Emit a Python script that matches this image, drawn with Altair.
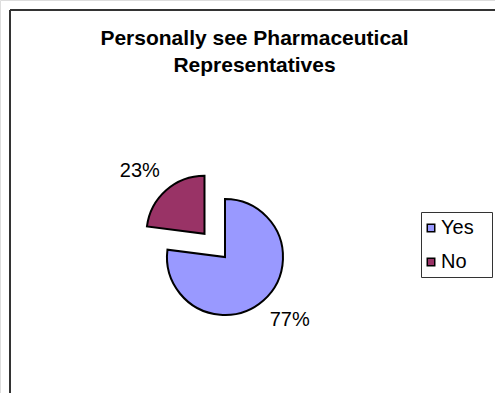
import altair as alt
import pandas as pd

# ---- data ----
categories = ["Yes", "No"]
values = [77, 23]
colors = ["#9999FF", "#993366"]

df = pd.DataFrame({
    "category": categories,
    "value": values,
    "order": list(range(len(categories))),
})

# ---- layout / style constants ----
W, H = 495, 393
CX, CY = 225, 257      # pie centre in px
R = 58                 # pie radius
EXPLODE_NO = 31        # explode distance of the "No" slice
LABEL_R = 90
FONT = "Liberation Sans"

base = (
    alt.Chart(df)
    .transform_joinaggregate(total="sum(value)")
    .transform_window(cum="sum(value)", sort=[alt.SortField("order")], frame=[None, 0])
    .transform_calculate(
        mid="(datum.cum - datum.value/2) / datum.total * 2 * PI",
        explode=f"datum.category == 'No' ? {EXPLODE_NO} : 0",
    )
    .transform_calculate(
        cx=f"{CX} + datum.explode * sin(datum.mid)",
        cy=f"{CY} - datum.explode * cos(datum.mid)",
        label="datum.value + '%'",
    )
)

pos = dict(
    theta=alt.Theta("value:Q", stack=True),
    order=alt.Order("order:Q"),
    x=alt.X("cx:Q", scale=None, axis=None),
    y=alt.Y("cy:Q", scale=None, axis=None),
)

arcs = base.mark_arc(stroke="black", strokeWidth=2, radius=R).encode(
    color=alt.Color(
        "category:N",
        scale=alt.Scale(domain=categories, range=colors),
        legend=alt.Legend(
            title=None,
            orient="none",
            legendX=421,
            legendY=218,
            symbolType="square",
            symbolSize=56,
            symbolStrokeColor="black",
            symbolStrokeWidth=1.5,
            symbolOpacity=1,
            labelFont=FONT,
            labelFontSize=20,
            labelColor="black",
            labelOffset=0,
            rowPadding=14,
            padding=0,
        ),
    ),
    **pos,
)

labels = base.mark_text(
    font=FONT, fontSize=20, color="black", align="center", baseline="middle",
    radius=LABEL_R, thetaOffset=-0.08,
).encode(text="label:N", **pos)

deco = alt.Chart(pd.DataFrame({"d": [0]}))
frame_left = deco.mark_rule(color="#333333", strokeWidth=2).encode(
    x=alt.value(10), y=alt.value(10), y2=alt.value(H + 5)
)
frame_top = deco.mark_rule(color="#333333", strokeWidth=2).encode(
    y=alt.value(10), x=alt.value(10), x2=alt.value(W + 5)
)
legend_box = deco.mark_rect(fill="white", stroke="#333333", strokeWidth=1).encode(
    x=alt.value(421.5), x2=alt.value(492.5), y=alt.value(212.5), y2=alt.value(277.5)
)

chart = (
    alt.layer(frame_left, frame_top, legend_box, arcs, labels)
    .properties(
        width=W,
        height=H,
        padding=0,
        autosize=alt.AutoSizeParams(type="none"),
        title=alt.TitleParams(
            ["Personally see Pharmaceutical", "Representatives"],
            font=FONT,
            fontSize=21,
            fontWeight="bold",
            color="black",
            anchor="middle",
            offset=-76,
            dx=7,
            lineHeight=27,
        ),
    )
    .configure_view(stroke=None)
    .configure(background="white")
)

chart.save("out.html", embed_options={"renderer": "svg", "actions": False})
